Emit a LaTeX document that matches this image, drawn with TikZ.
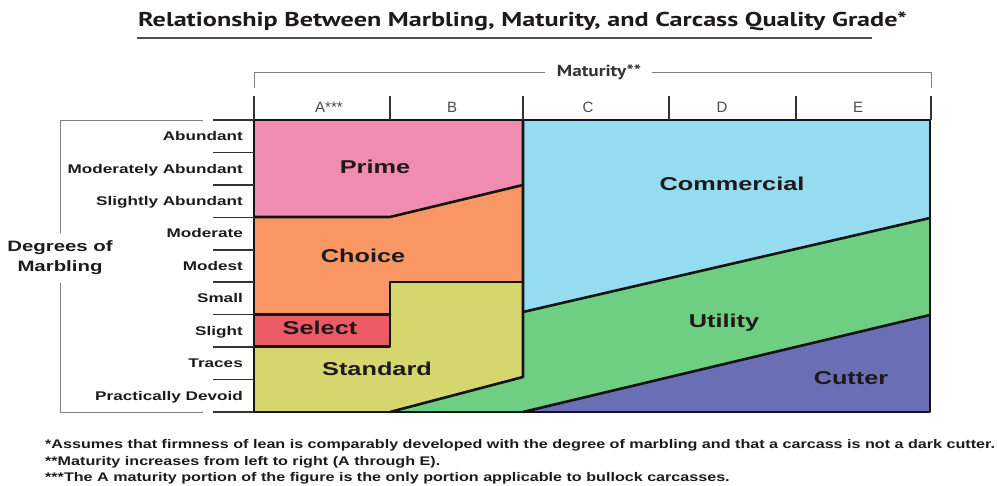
\documentclass[tikz,border=0pt]{standalone}
\usepackage{fontspec}
\setmainfont{Liberation Sans}
\newfontfamily\gradefont[FakeStretch=1.36]{Liberation Sans}
\newfontfamily\titlefont[FakeStretch=1.31]{PT Sans}
\newfontfamily\matfont[FakeStretch=1.2]{PT Sans}
\newfontfamily\notefont[FakeStretch=1.29]{Liberation Sans}
\newfontfamily\headfont{Liberation Sans}

\definecolor{primec}{HTML}{F08CB0}
\definecolor{choicec}{HTML}{F89664}
\definecolor{selectc}{HTML}{EC5A66}
\definecolor{standardc}{HTML}{D6D66E}
\definecolor{commercialc}{HTML}{96DCF0}
\definecolor{utilityc}{HTML}{6ECE82}
\definecolor{cutterc}{HTML}{6A6EB4}
\definecolor{edgec}{HTML}{141414}
\definecolor{inkc}{HTML}{1E1A1A}
\definecolor{tickc}{HTML}{333333}
\definecolor{headc}{HTML}{4A4A4A}
\definecolor{brkc}{HTML}{808080}
\definecolor{rulec}{HTML}{505050}

\begin{document}
\begin{tikzpicture}[x=1pt,y=-1pt,
  grade/.style={font=\gradefont\bfseries\fontsize{18.6}{20}\selectfont, text=inkc, anchor=base, inner sep=0pt},
  marb/.style={font=\gradefont\bfseries\fontsize{12.6}{14}\selectfont, text=inkc, anchor=base east, inner sep=0pt},
  colhead/.style={font=\headfont\fontsize{15}{16}\selectfont, text=headc, anchor=base, inner sep=0pt},
  note/.style={font=\notefont\bfseries\fontsize{12.5}{14}\selectfont, text=inkc, anchor=base west, inner sep=0pt},
  boundary/.style={draw=edgec, line width=2.6pt, line join=round, line cap=round},
  tickline/.style={draw=tickc, line width=1.6pt},
  bracketline/.style={draw=brkc, line width=0.9pt}]
\useasboundingbox (0,0) rectangle (997,486);

% title and its rule
\node[font=\titlefont\bfseries\fontsize{20}{22}\selectfont, text=inkc, anchor=base west, inner sep=0pt]
  (title) at (138,26.7) {Relationship Between Marbling, Maturity, and Carcass Quality Grade*};
\draw[draw=rulec, line width=2.4pt] (137,38.3) -- (872,38.3);

% grid corners
\coordinate (tl) at (254,120);
\coordinate (br) at (930,412);

% grade regions
\fill[primec] (254,120) -- (523,120) -- (523,185) -- (390,217) -- (254,217) -- cycle;
\fill[choicec] (254,217) -- (390,217) -- (523,185) -- (523,282.2) -- (390,282.2) -- (390,314.4) -- (254,314.4) -- cycle;
\fill[selectc] (254,314.4) -- (390,314.4) -- (390,346.8) -- (254,346.8) -- cycle;
\fill[standardc] (254,346.8) -- (390,346.8) -- (390,282.2) -- (523,282.2) -- (523,377) -- (390,412) -- (254,412) -- cycle;
\fill[commercialc] (523,120) -- (930,120) -- (930,218) -- (523,312) -- cycle;
\fill[utilityc] (523,312) -- (930,218) -- (930,315) -- (523,412) -- (390,412) -- (523,377) -- cycle;
\fill[cutterc] (523,412) -- (930,315) -- (930,412) -- cycle;

% boundaries between grades
\draw[boundary] (254,217) -- (390,217) -- (523,185);
\draw[boundary] (254,314.4) -- (390,314.4);
\draw[boundary] (254,346.8) -- (390,346.8) -- (390,282.2) -- (523,282.2);
\draw[boundary] (523,120) -- (523,377) -- (390,412);
\draw[boundary] (523,312) -- (930,218);
\draw[boundary] (523,412) -- (930,315);
\draw[boundary] (tl) rectangle (br);

% grade labels
\node[grade] (prime) at (375,173.3) {Prime};
\node[grade] (choice) at (363,262.7) {Choice};
\node[grade] (select) at (320,335) {Select};
\node[grade] (standard) at (377,376) {Standard};
\node[grade] (commercial) at (732,190.7) {Commercial};
\node[grade] (utility) at (724,327.5) {Utility};
\node[grade] (cutter) at (851,385) {Cutter};

% maturity scale
\node[font=\matfont\bfseries\fontsize{16}{18}\selectfont, text=tickc, inner sep=0pt] (maturity) at (599,72) {Maturity**};
\draw[bracketline] (254,88) -- (254,72) -- (545,72);
\draw[bracketline] (652,72) -- (931,72) -- (931,88);
\foreach \x in {254,390,523,669,796,931} \draw[tickline] (\x,96) -- (\x,120);
\node[colhead] (colA) at (329,112.7) {A***};
\node[colhead] (colB) at (452,112.7) {B};
\node[colhead] (colC) at (588,112.7) {C};
\node[colhead] (colD) at (722,112.7) {D};
\node[colhead] (colE) at (858,112.7) {E};

% marbling scale
\foreach \i in {0,...,9} \draw[tickline] (213,120+32.44*\i) -- (254,120+32.44*\i);
\draw[bracketline] (203,120) -- (60,120) -- (60,233);
\draw[bracketline] (60,283) -- (60,412) -- (203,412);
\node[font=\gradefont\bfseries\fontsize{15}{20}\selectfont, text=inkc, align=center, inner sep=0pt] (degrees) at (60,258) {Degrees of\\Marbling};
\node[marb] (m1) at (243,140.7) {Abundant};
\node[marb] (m2) at (243,173.1) {Moderately Abundant};
\node[marb] (m3) at (243,205.6) {Slightly Abundant};
\node[marb] (m4) at (243,238.0) {Moderate};
\node[marb] (m5) at (243,270.5) {Modest};
\node[marb] (m6) at (243,302.9) {Small};
\node[marb] (m7) at (243,335.4) {Slight};
\node[marb] (m8) at (243,367.8) {Traces};
\node[marb] (m9) at (243,400.3) {Practically Devoid};

% footnotes
\node[note] (n1) at (45,448.3) {*Assumes that firmness of lean is comparably developed with the degree of marbling and that a carcass is not a dark cutter.};
\node[note] (n2) at (45,465) {**Maturity increases from left to right (A through E).};
\node[note] (n3) at (45,481.7) {***The A maturity portion of the figure is the only portion applicable to bullock carcasses.};
\end{tikzpicture}
\end{document}
